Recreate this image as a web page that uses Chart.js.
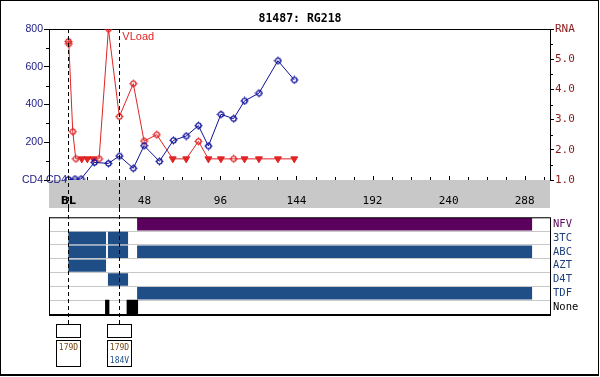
<!DOCTYPE html>
<html><head><meta charset="utf-8">
<script src="https://cdn.jsdelivr.net/npm/chart.js@4"></script>
<style>
html,body{margin:0;padding:0;background:#fff;}
#wrap{position:relative;width:600px;height:377px;overflow:hidden;background:#fff;}
#frame{position:absolute;left:0;top:0;width:599px;height:376px;box-sizing:border-box;border:1px solid #000;border-bottom-width:2px;}
canvas{position:absolute;left:0;}
#c1{top:0;}
#c2{top:208px;}
</style>
</head><body>
<div id="wrap"><div id="frame"></div>
<canvas id="c1" width="600" height="209"></canvas>
<canvas id="c2" width="600" height="169"></canvas>
</div>
<script>
// ---- data ----
const title = '81487: RG218';
const cd4Weeks = [0, 4.2, 8, 16.4, 25.3, 32.2, 41, 47.8, 57.5, 66.3, 74.4, 82.1, 88.4, 96.3, 104.3, 111.2, 120.3, 132.3, 142.6];
const cd4Values = [3, 5, 5, 93, 88, 127, 62, 182, 99, 210, 233, 288, 180, 348, 325, 419, 460, 632, 530];
const vlWeeks = [0, 0.3, 2.8, 4.7, 8.5, 12, 15.8, 19.4, 25.3, 32.2, 41, 47.8, 55.8, 65.9, 74.4, 82.1, 88.4, 96.3, 104.3, 111.2, 120.3, 132.3, 142.6];
const vlValues = [5.59, 5.51, 2.6, 1.7, 1.7, 1.7, 1.7, 1.7, 6.0, 3.1, 4.19, 2.29, 2.5, 1.7, 1.7, 2.28, 1.7, 1.7, 1.7, 1.7, 1.7, 1.7, 1.7];
const vlBelowLimit = [0, 0, 0, 0, 1, 1, 1, 0, 0, 0, 0, 0, 0, 1, 1, 0, 1, 1, 0, 1, 1, 1, 1];
const xTickValues = [0, 48, 96, 144, 192, 240, 288];
const cd4Ticks = [0, 200, 400, 600, 800];
const rnaTicks = [1, 2, 3, 4, 5, 6];
const drugs = ['NFV', '3TC', 'ABC', 'AZT', 'D4T', 'TDF', 'None'];
const nfvPeriods = [['NFV', 43.4, 292.7]];
const nrtiPeriods = [
  ['3TC', 0, 23.8], ['3TC', 25.0, 37.7],
  ['ABC', 0, 23.8], ['ABC', 25.0, 37.7], ['ABC', 43.4, 292.7],
  ['AZT', 0, 23.8],
  ['D4T', 25.0, 37.7],
  ['TDF', 43.4, 292.7]
];
const nonePeriods = [['None', 23.4, 25.7], ['None', 37.0, 43.8]];
const genotypeWeeks = [0, 32.2];
const mutations = [['179D'], ['179D', '184V']];

// ---- styles ----
const NAVY = '#10109a', NAVY_TXT = '#1a1a80', RED = '#e02424', DARKRED = '#8b1a1a';
const PURPLE = '#5c005e', BLUE = '#1f4e86';
const drugColors = ['#5c0a5c', '#1f3f7a', '#1f3f7a', '#1f3f7a', '#1f3f7a', '#1f3f7a', '#000000'];
const X_MIN = -12.2, X_MAX = 304;

function marker(color) {
  const c = document.createElement('canvas'); c.width = 9; c.height = 9;
  const g = c.getContext('2d'); g.strokeStyle = color; g.lineWidth = 1.3;
  g.beginPath(); g.arc(4.5, 4.5, 2.6, 0, Math.PI * 2); g.stroke();
  g.lineWidth = 1;
  g.beginPath();
  g.moveTo(4.5, 0.5); g.lineTo(4.5, 2); g.moveTo(4.5, 7); g.lineTo(4.5, 8.5);
  g.moveTo(0.5, 4.5); g.lineTo(2, 4.5); g.moveTo(7, 4.5); g.lineTo(8.5, 4.5);
  g.stroke();
  return c;
}
const mBlue = marker(NAVY), mRed = marker(RED);

function dashed(ctx, x, y0, y1) {
  ctx.save(); ctx.strokeStyle = '#000'; ctx.lineWidth = 1; ctx.setLineDash([4, 3]);
  ctx.beginPath(); ctx.moveTo(Math.round(x) + 0.5, y0); ctx.lineTo(Math.round(x) + 0.5, y1); ctx.stroke(); ctx.restore();
}

const topPlugin = {
  id: 'topDeco',
  beforeDraw(chart) {
    const { ctx, chartArea: a } = chart;
    ctx.save(); ctx.fillStyle = '#c8c8c8';
    ctx.fillRect(a.left, a.bottom, a.right - a.left, 28); ctx.restore();
  },
  beforeDatasetsDraw(chart) {
    const { ctx, chartArea: a, scales } = chart;
    ctx.save();
    ctx.strokeStyle = '#000'; ctx.lineWidth = 1;
    ctx.beginPath(); ctx.moveTo(a.left, a.top + 0.5); ctx.lineTo(a.right, a.top + 0.5); ctx.stroke();
    ctx.beginPath();
    for (let w = 0; w <= 300; w += 12) {
      const x = Math.round(scales.x.getPixelForValue(w)) + 0.5;
      const len = (w % 48 === 0) ? 4 : 3;
      ctx.moveTo(x, a.bottom); ctx.lineTo(x, a.bottom - len);
    }
    for (let v = 100; v < 800; v += 200) {
      const y = Math.round(scales.y.getPixelForValue(v)) + 0.5;
      ctx.moveTo(a.left, y); ctx.lineTo(a.left - 3, y);
    }
    for (let v = 1.5; v < 6; v += 1) {
      const y = Math.round(scales.y2.getPixelForValue(v)) + 0.5;
      ctx.moveTo(a.right, y); ctx.lineTo(a.right + 3, y);
    }
    ctx.stroke();
    ctx.font = '10.5px "Liberation Sans"'; ctx.fillStyle = NAVY_TXT; ctx.textAlign = 'left'; ctx.textBaseline = 'middle';
    ctx.fillText('CD4', a.left - 3, a.bottom);
    ctx.font = '11px "Liberation Sans"'; ctx.fillStyle = RED;
    ctx.fillText('VLoad', scales.x.getPixelForValue(genotypeWeeks[1]) + 3, a.top + 8);
    ctx.restore();
  },
  afterDraw(chart) {
    const { ctx, chartArea: a, scales } = chart;
    genotypeWeeks.forEach(w => dashed(ctx, scales.x.getPixelForValue(w), a.top, chart.height));
  }
};

new Chart(document.getElementById('c1'), {
  type: 'line',
  data: {
    datasets: [
      {
        label: 'CD4', yAxisID: 'y',
        data: cd4Weeks.map((w, i) => ({ x: w, y: cd4Values[i] })),
        borderColor: NAVY, borderWidth: 1, tension: 0,
        pointStyle: mBlue, pointRadius: 4.5
      },
      {
        label: 'VLoad', yAxisID: 'y2',
        data: vlWeeks.map((w, i) => ({ x: w, y: vlValues[i] })),
        borderColor: RED, borderWidth: 1, tension: 0,
        pointStyle: vlBelowLimit.map(b => b ? 'triangle' : mRed),
        pointRotation: vlBelowLimit.map(b => b ? 180 : 0),
        pointRadius: vlBelowLimit.map(b => b ? 4 : 4.5),
        pointBackgroundColor: RED, pointBorderColor: RED, pointBorderWidth: 1
      }
    ]
  },
  options: {
    responsive: false, animation: false, devicePixelRatio: 1,
    layout: { padding: 0 },
    plugins: {
      legend: { display: false }, tooltip: { enabled: false },
      title: { display: true, text: title, color: '#000', font: { family: 'DejaVu Sans Mono', size: 11.5, weight: 'bold' }, padding: { top: 12.5, bottom: 2.7 } }
    },
    scales: {
      x: {
        type: 'linear', min: X_MIN, max: X_MAX,
        afterFit: s => { s.height = 29; },
        afterBuildTicks: s => { s.ticks = xTickValues.map(v => ({ value: v })); },
        grid: { display: false }, border: { display: false },
        ticks: {
          padding: 7, color: '#000', autoSkip: false, maxRotation: 0,
          callback: v => v === 0 ? 'BL' : String(v),
          font: c => (c.tick && c.tick.value === 0) ? { family: 'DejaVu Sans', size: 11, weight: 'bold' } : { family: 'DejaVu Sans Mono', size: 11 }
        }
      },
      y: {
        position: 'left', min: 0, max: 800,
        afterFit: s => { s.width = 49; },
        afterBuildTicks: s => { s.ticks = cd4Ticks.map(v => ({ value: v })); },
        grid: { drawOnChartArea: false, tickLength: 5, color: '#000' }, border: { color: '#000' },
        ticks: { padding: 1, color: NAVY_TXT, font: { family: 'Liberation Sans', size: 10.5 }, callback: v => v === 0 ? 'CD4' : String(v) }
      },
      y2: {
        position: 'right', min: 1, max: 6,
        afterFit: s => { s.width = 50; },
        afterBuildTicks: s => { s.ticks = rnaTicks.map(v => ({ value: v })); },
        grid: { drawOnChartArea: false, tickLength: 4, color: '#000' }, border: { color: '#000' },
        ticks: { padding: 1, color: DARKRED, font: { family: 'DejaVu Sans Mono', size: 11 }, callback: v => v === 6 ? 'RNA' : v.toFixed(1) }
      }
    }
  },
  plugins: [topPlugin]
});

const toBars = arr => arr.map(p => ({ y: p[0], x: [p[1], p[2]] }));

const bottomPlugin = {
  id: 'bottomDeco',
  afterDraw(chart) {
    const { ctx, chartArea: a, scales } = chart;
    ctx.save();
    ctx.strokeStyle = '#000'; ctx.lineWidth = 1;
    ctx.beginPath();
    ctx.moveTo(a.left + 0.5, a.top); ctx.lineTo(a.left + 0.5, a.bottom);
    ctx.moveTo(a.left, a.top + 0.5); ctx.lineTo(a.right, a.top + 0.5);
    ctx.moveTo(a.right + 0.5, a.top); ctx.lineTo(a.right + 0.5, a.bottom);
    ctx.stroke();
    ctx.lineWidth = 2; ctx.beginPath(); ctx.moveTo(a.left, a.bottom + 1); ctx.lineTo(a.right + 1, a.bottom + 1); ctx.stroke();
    const boxTop = a.bottom + 10;
    genotypeWeeks.forEach((w, i) => {
      const x = Math.round(scales.x.getPixelForValue(w));
      dashed(ctx, x, 0, boxTop);
      ctx.lineWidth = 1; ctx.strokeStyle = '#000';
      ctx.strokeRect(x - 12 + 0.5, boxTop + 0.5, 24, 13);
      ctx.strokeRect(x - 12 + 0.5, boxTop + 16.5, 24, 26);
      ctx.font = '8px "DejaVu Sans Mono"'; ctx.textAlign = 'center'; ctx.textBaseline = 'middle';
      mutations[i].forEach((m, j) => {
        ctx.fillStyle = j === 0 ? '#7a4a14' : BLUE;
        ctx.fillText(m, x + 0.5, boxTop + 24 + j * 12.5);
      });
    });
    ctx.restore();
  }
};

new Chart(document.getElementById('c2'), {
  type: 'bar',
  data: {
    labels: drugs,
    datasets: [
      { data: toBars(nfvPeriods), backgroundColor: PURPLE },
      { data: toBars(nrtiPeriods), backgroundColor: BLUE },
      { data: toBars(nonePeriods), backgroundColor: '#000', categoryPercentage: 1 }
    ]
  },
  options: {
    indexAxis: 'y', responsive: false, animation: false, devicePixelRatio: 1,
    layout: { padding: { left: 49, top: 1, right: 0, bottom: 63 } },
    datasets: { bar: { grouped: false, barPercentage: 1, categoryPercentage: 0.9, borderWidth: 0 } },
    plugins: { legend: { display: false }, tooltip: { enabled: false } },
    scales: {
      x: { type: 'linear', min: X_MIN, max: X_MAX, display: false },
      y: {
        type: 'category', position: 'right',
        afterFit: s => { s.width = 50; },
        grid: { offset: true, drawTicks: false, color: '#c8c8c8' }, border: { display: false },
        ticks: { padding: 3, autoSkip: false, color: c => drugColors[c.index], font: { family: 'DejaVu Sans Mono', size: 10.5 } }
      }
    }
  },
  plugins: [bottomPlugin]
});
</script>
</body></html>
